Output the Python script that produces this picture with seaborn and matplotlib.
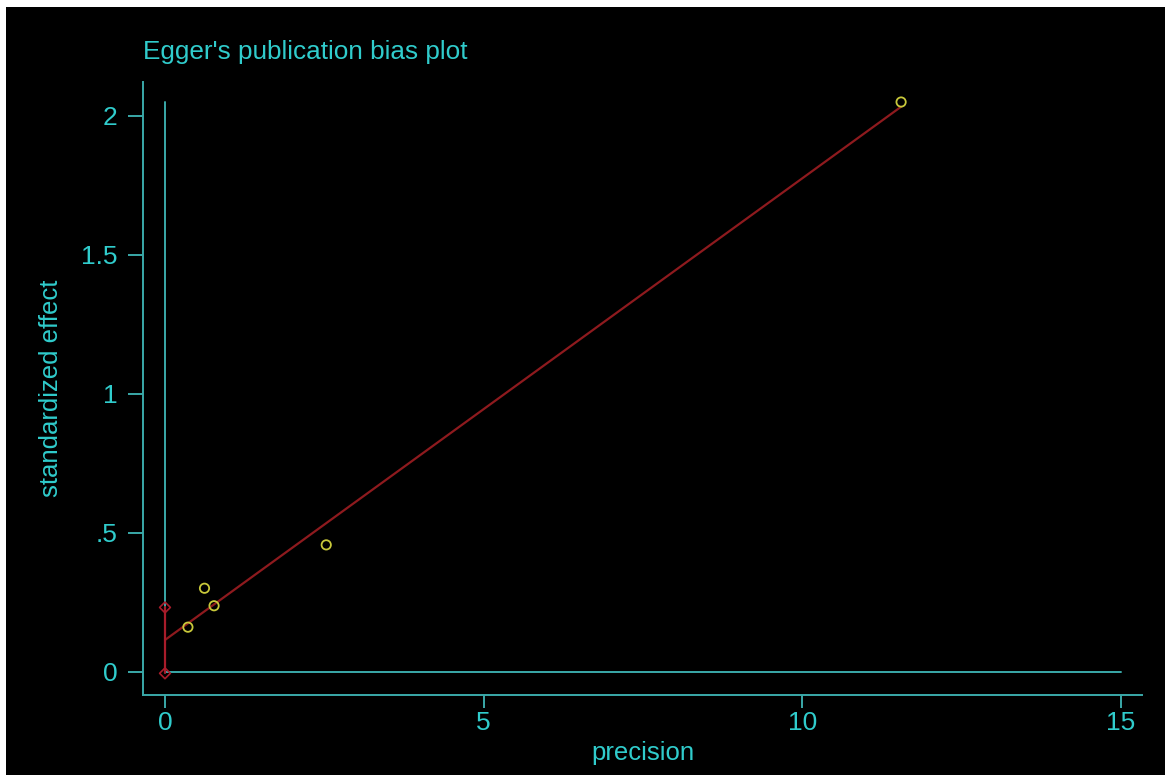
import numpy as np
import pandas as pd
import seaborn as sns
import matplotlib.pyplot as plt
from matplotlib.patches import Rectangle

# values
precision = [0.36, 0.62, 0.77, 2.53, 11.55]
std_effect = [0.161, 0.301, 0.238, 0.457, 2.05]
fit_x = [0.0, 11.55]
fit_y = [0.115, 2.033]
ci_x = [0.0, 0.0]
ci_y = [-0.005, 0.232]
ref_v_y = [0.0, 2.05]
ref_h_x = [0.0, 15.0]
xticks = [0, 5, 10, 15]
yticks = [0, 0.5, 1, 1.5, 2]
ytick_labels = ['0', '.5', '1', '1.5', '2']

teal = '#30cccc'
teal_line = '#3aa9a9'
yellow = '#c8c83a'
dark_red = '#8e1a1e'
red = '#a81c2a'

sns.set_theme(style='dark')
plt.rcParams['font.family'] = ['Liberation Sans', 'DejaVu Sans']

fig = plt.figure(figsize=(11.65, 7.75), dpi=100, facecolor='white')
# black plot region, thin white border on the left and top
fig.patches.append(Rectangle((6 / 1165, 0), 1 - 6 / 1165, 1 - 7 / 775,
                             transform=fig.transFigure, facecolor='black',
                             edgecolor='none', zorder=-10))

ax = fig.add_axes([143 / 1165, 80 / 775, 999 / 1165, 613 / 775])
ax.set_facecolor('black')

df = pd.DataFrame({'precision': precision, 'std_effect': std_effect})

# reference lines at x=0 and y=0
ax.plot([0, 0], ref_v_y, color=teal_line, lw=1.4, zorder=1)
ax.plot(ref_h_x, [0, 0], color=teal_line, lw=1.4, zorder=1)

# egger regression line and intercept CI
sns.lineplot(x=fit_x, y=fit_y, color=dark_red, lw=1.6, ax=ax, zorder=2)
ax.plot(ci_x, ci_y, color=red, lw=1.6, zorder=3)
ax.scatter(ci_x, ci_y, marker='D', s=30, facecolors='none',
           edgecolors=red, linewidths=1.2, zorder=4)

sns.scatterplot(data=df, x='precision', y='std_effect', marker='o', s=45,
                facecolors='none', edgecolor=yellow, linewidth=1.3, ax=ax, zorder=5)

ax.set_xlim(-0.345, 15.33)
ax.set_ylim(-0.083, 2.122)
ax.set_xticks(xticks)
ax.set_xticklabels([str(t) for t in xticks])
ax.set_yticks(yticks)
ax.set_yticklabels(ytick_labels)
ax.grid(False)

for s in ['top', 'right']:
    ax.spines[s].set_visible(False)
for s in ['left', 'bottom']:
    ax.spines[s].set_visible(True)
    ax.spines[s].set_color(teal_line)
    ax.spines[s].set_linewidth(1.4)

ax.tick_params(axis='both', colors=teal_line, labelcolor=teal, labelsize=19,
               width=1.4, direction='out')
ax.tick_params(axis='y', length=10.5, pad=8)
ax.tick_params(axis='x', length=9.5, pad=2)
ax.tick_params(left=True, bottom=True)

ax.set_xlabel('precision', color=teal, fontsize=18.5, labelpad=4)
ax.set_ylabel('standardized effect', color=teal, fontsize=18.5, labelpad=13)

fig.text(143 / 1165, 1 - 59 / 775, "Egger's publication bias plot",
         color=teal, fontsize=18.8, ha='left', va='baseline')

fig.savefig('out.png', dpi=100, facecolor=fig.get_facecolor())
